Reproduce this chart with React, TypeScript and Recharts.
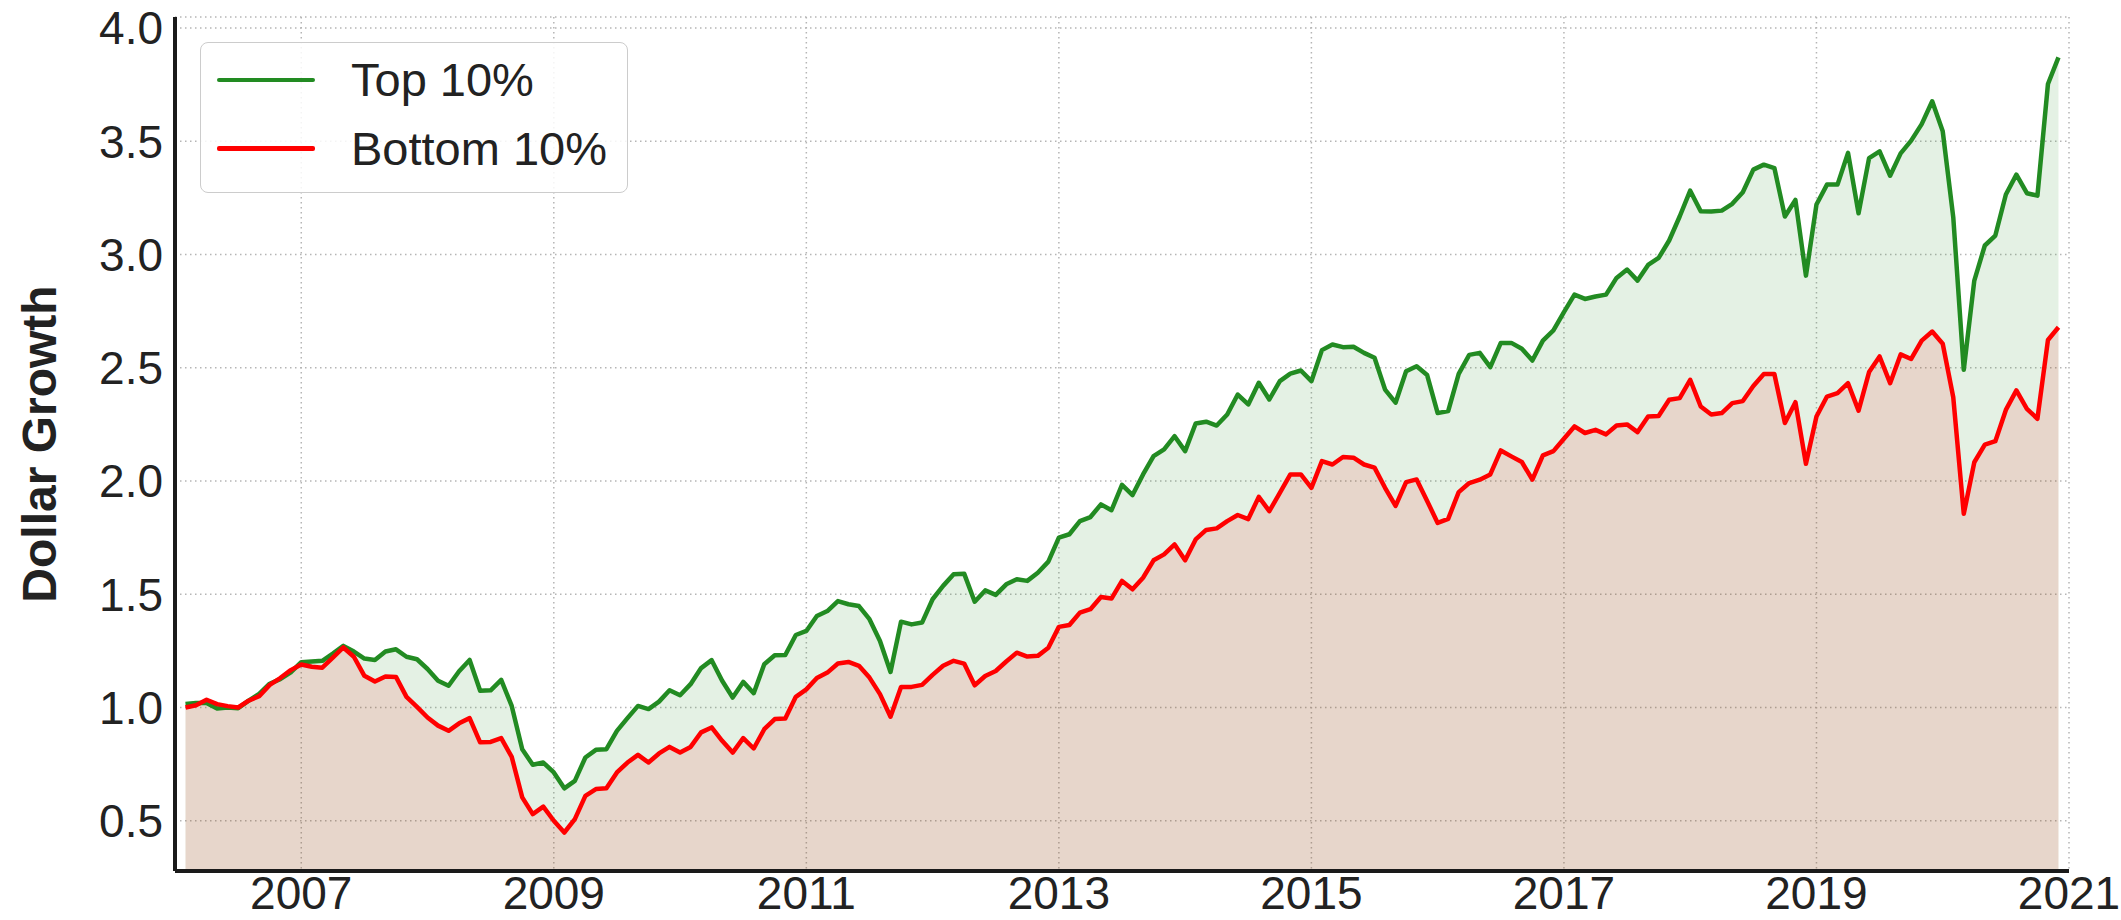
import React from "react";
import {
  ComposedChart,
  Area,
  Line,
  XAxis,
  YAxis,
  CartesianGrid,
  Legend,
} from "recharts";

// monthly series, first point = end of Jan 2006, last = end of Nov 2020
const START_YEAR = 2006;

const top10 = [
  1.015, 1.02, 1.02, 0.996, 1.0, 0.997, 1.03, 1.06, 1.105, 1.125, 1.155, 1.2,
  1.203, 1.206, 1.238, 1.272, 1.247, 1.216, 1.21, 1.247, 1.257, 1.224, 1.213, 1.17,
  1.118, 1.096, 1.16, 1.21, 1.074, 1.076, 1.122, 1.007, 0.816, 0.747, 0.757, 0.713,
  0.643, 0.676, 0.779, 0.813, 0.816, 0.897, 0.953, 1.007, 0.993, 1.026, 1.076, 1.054,
  1.103, 1.174, 1.209, 1.118, 1.044, 1.113, 1.063, 1.191, 1.231, 1.232, 1.32, 1.338,
  1.404, 1.426, 1.47, 1.456, 1.448, 1.39, 1.294, 1.157, 1.379, 1.367, 1.375, 1.478,
  1.537, 1.588, 1.591, 1.467, 1.517, 1.497, 1.544, 1.566, 1.559, 1.595, 1.644, 1.75,
  1.765, 1.823, 1.841, 1.897, 1.871, 1.983, 1.938, 2.029, 2.11, 2.14, 2.198, 2.132,
  2.254, 2.262, 2.245, 2.294, 2.382, 2.338, 2.434, 2.36, 2.441, 2.474, 2.488, 2.441,
  2.578, 2.603, 2.591, 2.593, 2.566, 2.544, 2.404, 2.346, 2.485, 2.507, 2.468, 2.3,
  2.309, 2.473, 2.557, 2.566, 2.503, 2.61, 2.61, 2.584, 2.532, 2.62, 2.665, 2.746,
  2.823, 2.804, 2.815, 2.823, 2.897, 2.934, 2.885, 2.954, 2.985, 3.062, 3.168, 3.282,
  3.191, 3.19, 3.194, 3.224, 3.275, 3.375, 3.397, 3.382, 3.168, 3.241, 2.907, 3.221,
  3.309, 3.309, 3.449, 3.182, 3.426, 3.456, 3.348, 3.447, 3.503, 3.576, 3.677, 3.544,
  3.165, 2.491, 2.885, 3.04, 3.084, 3.265, 3.353, 3.271, 3.26, 3.753, 3.871,
];

const bottom10 = [
  1.0, 1.01, 1.034, 1.015, 1.006, 1.0, 1.03, 1.05, 1.1, 1.13, 1.165, 1.19,
  1.18, 1.176, 1.22, 1.265, 1.224, 1.14, 1.115, 1.137, 1.135, 1.047, 1.003, 0.956,
  0.92, 0.897, 0.93, 0.953, 0.846, 0.848, 0.865, 0.782, 0.603, 0.529, 0.562, 0.5,
  0.448, 0.507, 0.61, 0.64, 0.643, 0.713, 0.757, 0.791, 0.757, 0.797, 0.826, 0.801,
  0.826, 0.89, 0.912, 0.853, 0.801, 0.865, 0.819, 0.904, 0.949, 0.951, 1.047, 1.08,
  1.13, 1.154, 1.194, 1.201, 1.184, 1.132, 1.059, 0.959, 1.091, 1.091, 1.1, 1.144,
  1.184, 1.206, 1.194, 1.098, 1.139, 1.161, 1.203, 1.242, 1.225, 1.228, 1.264, 1.356,
  1.364, 1.419, 1.434, 1.488, 1.481, 1.559, 1.522, 1.573, 1.65, 1.676, 1.72, 1.65,
  1.742, 1.784, 1.791, 1.823, 1.85, 1.832, 1.93, 1.867, 1.948, 2.029, 2.029, 1.97,
  2.088, 2.073, 2.106, 2.103, 2.073, 2.059, 1.97, 1.89, 1.995, 2.007, 1.912, 1.815,
  1.833, 1.951, 1.991, 2.006, 2.029, 2.135, 2.109, 2.084, 2.006, 2.113, 2.132, 2.187,
  2.241, 2.212, 2.226, 2.206, 2.245, 2.25, 2.216, 2.285, 2.287, 2.359, 2.366, 2.447,
  2.329, 2.294, 2.3, 2.344, 2.353, 2.42, 2.473, 2.473, 2.256, 2.348, 2.076, 2.285,
  2.373, 2.388, 2.432, 2.311, 2.481, 2.55, 2.432, 2.559, 2.539, 2.62, 2.66, 2.606,
  2.37, 1.855, 2.083, 2.161, 2.176, 2.314, 2.4, 2.319, 2.275, 2.623, 2.679,
];

const yearTicks = [2007, 2009, 2011, 2013, 2015, 2017, 2019, 2021];
const valueTicks = [0.5, 1.0, 1.5, 2.0, 2.5, 3.0, 3.5, 4.0];

const GREEN = "#228B22";
const RED = "#FF0000";
const FONT = "'Liberation Sans', Arial, sans-serif";

const series = [
  { key: "top", name: "Top 10%", color: GREEN },
  { key: "bottom", name: "Bottom 10%", color: RED },
];

const data = top10.map((v, i) => ({
  t: START_YEAR + (i + 1) / 12,
  top: v,
  bottom: bottom10[i],
}));

function LegendBox() {
  return (
    <div
      style={{
        position: "relative",
        width: 426,
        height: 149,
        border: "1.5px solid #cccccc",
        borderRadius: 8,
        background: "rgba(255,255,255,0.85)",
        fontFamily: FONT,
        fontSize: 47,
        color: "#222",
      }}
    >
      {series.map((s, i) => (
        <div
          key={s.key}
          style={{
            position: "absolute",
            left: 0,
            top: 37 + i * 68.7 - 30,
            height: 60,
            display: "flex",
            alignItems: "center",
          }}
        >
          <div
            style={{
              marginLeft: 16,
              width: 98,
              height: 4.5,
              background: s.color,
              borderRadius: 2,
            }}
          />
          <span style={{ marginLeft: 36, lineHeight: "60px" }}>{s.name}</span>
        </div>
      ))}
    </div>
  );
}

function YLabel(props: any) {
  const vb = props.viewBox;
  const cx = 56;
  const cy = vb.y + vb.height / 2;
  return (
    <text
      x={cx}
      y={cy}
      transform={`rotate(-90, ${cx}, ${cy})`}
      textAnchor="middle"
      fontFamily={FONT}
      fontWeight="bold"
      fontSize={48}
      fill="#222"
    >
      Dollar Growth
    </text>
  );
}

export default function App() {
  return (
    <div style={{ position: "absolute", left: 0, top: 0, background: "#fff" }}>
      <ComposedChart
        width={2121}
        height={920}
        data={data}
        margin={{ top: 17, right: 52, left: 0, bottom: 0 }}
      >
        <CartesianGrid
          stroke="#b5b5b5"
          strokeWidth={1.5}
          strokeDasharray="1.5 3.5"
        />
        <XAxis
          dataKey="t"
          type="number"
          domain={[2006, 2021]}
          ticks={yearTicks}
          allowDataOverflow
          height={49}
          tickLine={false}
          tickSize={0}
          tickMargin={5}
          axisLine={{ stroke: "#1a1a1a", strokeWidth: 4 }}
          tick={{ fontFamily: FONT, fontSize: 46, fill: "#222" }}
        />
        <YAxis
          type="number"
          domain={[0.278, 4.049]}
          ticks={valueTicks}
          allowDataOverflow
          width={175}
          tickLine={false}
          tickSize={0}
          tickMargin={12}
          axisLine={{ stroke: "#1a1a1a", strokeWidth: 4 }}
          tick={{ fontFamily: FONT, fontSize: 46, fill: "#222" }}
          tickFormatter={(v: number) => v.toFixed(1)}
          label={<YLabel />}
        />
        <Area
          type="linear"
          dataKey="top"
          stroke="none"
          fill={GREEN}
          fillOpacity={0.12}
          isAnimationActive={false}
          legendType="none"
        />
        <Area
          type="linear"
          dataKey="bottom"
          stroke="none"
          fill={RED}
          fillOpacity={0.11}
          isAnimationActive={false}
          legendType="none"
        />
        <Line
          type="linear"
          dataKey="top"
          name="Top 10%"
          stroke={GREEN}
          strokeWidth={4.5}
          dot={false}
          strokeLinejoin="round"
          isAnimationActive={false}
        />
        <Line
          type="linear"
          dataKey="bottom"
          name="Bottom 10%"
          stroke={RED}
          strokeWidth={4.5}
          dot={false}
          strokeLinejoin="round"
          isAnimationActive={false}
        />
        <Legend
          layout="vertical"
          align="center"
          verticalAlign="middle"
          content={() => <LegendBox />}
          wrapperStyle={{ left: 200, top: 42, width: 429, height: 152 }}
        />
      </ComposedChart>
    </div>
  );
}
